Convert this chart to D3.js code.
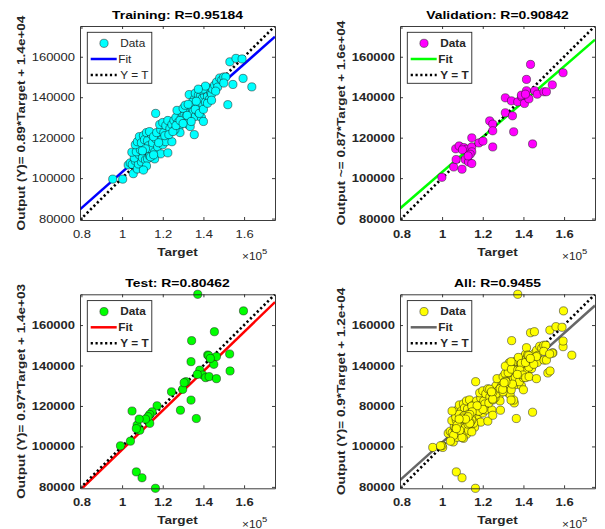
<!DOCTYPE html>
<html><head><meta charset="utf-8">
<script src="https://cdn.jsdelivr.net/npm/d3@7/dist/d3.min.js"></script>
<style>body{margin:0;background:#fff}svg{display:block}</style>
</head><body>
<svg id="chart" width="605" height="529"></svg>
<script>
// ---------------- data ----------------
const trainT = [95400,100300,105500,103000,104000,105000,106500,107500,108000,109500,106000,104800,108500,110000,111500,112500,113500,107000,109000,106500,107500,108500,110500,109500,111000,112500,113000,114000,115000,116000,117500,116500,118000,119500,120000,121500,119000,122500,111500,110000,112000,114500,113500,115500,117000,119000,120500,118500,120000,121500,122500,116500,123500,124500,116000,112000,110500,124500,125500,126500,127500,128000,129000,129500,130500,131000,132000,131500,132500,133000,134000,133500,134500,135000,135500,136000,136500,137000,137500,138000,138500,139000,139500,140000,133000,128500,127000,126000,130000,135500,136000,137500,138500,134500,131000,132500,139500,140500,141000,141500,142000,142500,143000,143500,144000,144500,145500,146500,147000,148000,149000,150000,139000,140000,141000,137500,136500,152000,154500,159500,163800,153000,156000,159000,151000,150000,114000,115500,118000,121000,123000,125000,126500,128500,130000,132000,134000,136000,138000,140000,142000,144000,146000];
const trainY = [99500,99500,102200,106500,107500,106800,108500,104500,107000,108000,110000,112800,111500,110000,109000,109500,111000,113000,114000,116500,118000,120500,121000,117500,119000,118500,116000,114500,117500,113000,115500,119500,121000,119000,116500,118000,112000,112500,114500,113500,122500,121500,123000,120500,122500,124000,122500,126500,127500,126000,128500,132000,124500,118000,109500,106000,104000,126500,128500,130000,127500,125000,129500,132000,131000,128000,133500,130500,126500,129500,131000,125500,134500,133000,121500,130500,136500,134500,132500,138000,135000,130000,137000,128000,141300,122500,133500,124000,134500,139000,142000,141000,140500,137500,136000,136500,139500,141000,137500,143000,140500,144500,139000,142500,141500,144000,146000,147500,145000,149500,148500,150000,143500,144000,145500,144000,138000,136300,146300,149300,145100,157500,159200,158900,150000,147000,110500,111500,117500,121000,121500,123000,126000,128500,127000,131000,128000,134000,132000,134000,137000,138500,143000];

const valT = [99900,105700,109800,106900,106700,108400,110700,112200,114600,114600,114600,113800,111300,113000,114600,118100,120100,124900,123400,124900,124900,131100,134600,135200,131100,134100,137200,139100,140500,141500,141500,143500,142700,145500,146800,150100,151300,154200,159500,144500,110000,112800,139000,141000];
const valY = [100400,105500,104400,109200,114500,115900,115100,114300,115400,119900,113000,111800,109200,108000,107200,117400,118300,115400,128300,126700,123400,132300,130800,122900,139700,138200,137700,140200,136900,143200,148800,156200,139200,143200,141500,142700,142700,146100,152100,116900,114000,111000,141000,141500];

const testT = [137200,159700,145400,134200,133900,142100,143300,146400,145100,152900,153100,138200,139700,141100,142800,146400,137000,133900,136500,131400,129800,124300,128700,117200,114800,113600,113600,112800,111500,108700,107400,107000,104900,108400,104100,99200,107000,109800,116400,142600,143400,130500];
const testY = [175200,167000,156700,152300,141900,145200,143600,144400,140600,145700,137300,137700,135300,134000,134500,133500,135600,122900,113800,132000,128200,127000,117900,120100,117100,111400,115800,114700,113500,108000,110500,108800,117500,113500,102600,100300,87400,84500,79300,144900,143500,131500];

const allT = trainT.concat(valT, testT);
const allY = trainY.concat(valY, testY);

const axisLimits = [79300, 175200];
const tickValues = [80000, 100000, 120000, 140000, 160000];
const xTickLabels = ["0.8", "1", "1.2", "1.4", "1.6"];
const yTickLabels = ["80000", "100000", "120000", "140000", "160000"];
const yTickLabelsAll = ["80000", "100000", "80000", "140000", "160000"];

const titles = ["Training: R=0.95184", "Validation: R=0.90842", "Test: R=0.80462", "All: R=0.9455"];
const yLabels = ["Output (Y)= 0.89*Target + 1.4e+04", "Output ~= 0.87*Target + 1.6e+04",
                 "Output (Y)= 0.97*Target + 1.4e+03", "Output (Y)= 0.9*Target + 1.2e+04"];
const fitSlopes = [0.89, 0.87, 0.97, 0.9];
const fitIntercepts = [14000, 16000, 1400, 12000];
const markerColors = ["#00ffff", "#ff00ff", "#00ff00", "#ffff00"];
const fitColors = ["#0000ff", "#00ff00", "#ff0000", "#666666"];
const legendLabels = ["Data", "Fit", "Y = T"];

// ---------------- drawing ----------------
const svg = d3.select("#chart");
const W = 195, H = 194;
const origins = [[80, 26], [400, 26], [80, 294.3], [400, 294.3]];
const FONT = "'Liberation Sans', Arial, Helvetica, sans-serif";
const SX = 1.18;
const TXT = "#262626";
const R = 4.1;

const panels = [
  {T: trainT, Y: trainY, boldTicks: false},
  {T: valT, Y: valY, boldTicks: true},
  {T: testT, Y: testY, boldTicks: true},
  {T: allT, Y: allY, boldTicks: true}
];

panels.forEach((p, i) => {
  const [ox, oy] = origins[i];
  const g = svg.append("g").attr("transform", `translate(${ox},${oy})`);
  const x = d3.scaleLinear().domain(axisLimits).range([0, W]);
  const y = d3.scaleLinear().domain(axisLimits).range([H, 0]);
  const fw = p.boldTicks ? "bold" : "normal";

  g.append("rect").attr("width", W).attr("height", H).attr("fill", "#fff");

  const clipId = "clip" + i;
  g.append("clipPath").attr("id", clipId).append("rect").attr("width", W).attr("height", H);
  const plot = g.append("g").attr("clip-path", `url(#${clipId})`);

  // fit line
  const fy = t => fitSlopes[i] * t + fitIntercepts[i];
  plot.append("line")
    .attr("x1", x(axisLimits[0])).attr("y1", y(fy(axisLimits[0])))
    .attr("x2", x(axisLimits[1])).attr("y2", y(fy(axisLimits[1])))
    .attr("stroke", fitColors[i]).attr("stroke-width", 2.5);
  // Y = T line
  plot.append("line")
    .attr("x1", x(axisLimits[0])).attr("y1", y(axisLimits[0]))
    .attr("x2", x(axisLimits[1])).attr("y2", y(axisLimits[1]))
    .attr("stroke", "#000").attr("stroke-width", 2.6).attr("stroke-dasharray", "2.2,2.6");

  // data points
  g.append("g").selectAll("circle").data(p.T.map((t, k) => [t, p.Y[k]])).join("circle")
    .attr("cx", d => x(d[0])).attr("cy", d => y(d[1])).attr("r", R)
    .attr("fill", markerColors[i]).attr("stroke", "#1a1a1a").attr("stroke-width", 0.5);

  // axes
  const yl = i === 3 ? yTickLabelsAll : yTickLabels;
  const axB = g.append("g").attr("transform", `translate(0,${H})`)
    .call(d3.axisBottom(x).tickValues(tickValues).tickFormat((d, k) => xTickLabels[k]).tickSizeInner(-3).tickSizeOuter(0).tickPadding(10));
  const axL = g.append("g")
    .call(d3.axisLeft(y).tickValues(tickValues).tickFormat((d, k) => yl[k]).tickSizeInner(-3).tickSizeOuter(0).tickPadding(5));
  const axT = g.append("g")
    .call(d3.axisTop(x).tickValues(tickValues).tickFormat("").tickSizeInner(-3).tickSizeOuter(0));
  const axR = g.append("g").attr("transform", `translate(${W},0)`)
    .call(d3.axisRight(y).tickValues(tickValues).tickFormat("").tickSizeInner(-3).tickSizeOuter(0));
  [axB, axL, axT, axR].forEach(a => {
    a.selectAll("path.domain").attr("stroke", TXT).attr("stroke-width", 0.9);
    a.selectAll(".tick line").attr("stroke", TXT).attr("stroke-width", 0.9);
    a.selectAll("text").attr("font-family", FONT).attr("font-size", 11)
      .attr("font-weight", fw).attr("fill", TXT);
  });
  axB.selectAll(".tick text").attr("transform", `scale(${SX},1)`);
  axL.selectAll(".tick text").attr("x", -5 / SX).attr("transform", `scale(${SX},1)`);

  // stretched text helper
  const stext = (parent, tx, ty, str, size, weight, anchor, rot, color) => parent.append("text")
    .attr("transform", `translate(${tx},${ty})${rot ? " rotate(-90)" : ""} scale(${SX},1)`)
    .attr("font-family", FONT).attr("font-size", size).attr("font-weight", weight)
    .attr("text-anchor", anchor).attr("fill", color || TXT).text(str);

  // title
  stext(g, W / 2, -7.5, titles[i], 11.8, "bold", "middle", false, "#000");
  // x label
  stext(g, W / 2, H + 35.5, "Target", 11.5, "bold", "middle");
  // y label
  stext(g, -55.5, H / 2, yLabels[i], 11.5, "bold", "middle", true);
  // x10^5
  const ex = g.append("text").attr("transform", `translate(${W - 33},${H + 39.5}) scale(${SX},1)`)
    .attr("font-family", FONT).attr("font-size", 10).attr("fill", TXT);
  ex.append("tspan").text("\u00d710");
  ex.append("tspan").attr("dy", -5.5).attr("font-size", 8).text("5");

  // legend
  const lg = g.append("g").attr("transform", "translate(7.3,6.3)");
  lg.append("rect").attr("width", 64.5).attr("height", 51).attr("fill", "#fff")
    .attr("stroke", TXT).attr("stroke-width", 0.9);
  const rows = [11, 26.7, 42.7];
  lg.append("circle").attr("cx", 16.7).attr("cy", rows[0]).attr("r", R)
    .attr("fill", markerColors[i]).attr("stroke", "#1a1a1a").attr("stroke-width", 0.5);
  lg.append("line").attr("x1", 3.4).attr("x2", 29.4).attr("y1", rows[1]).attr("y2", rows[1])
    .attr("stroke", fitColors[i]).attr("stroke-width", 2.5);
  lg.append("line").attr("x1", 3.4).attr("x2", 29.4).attr("y1", rows[2]).attr("y2", rows[2])
    .attr("stroke", "#000").attr("stroke-width", 2.6).attr("stroke-dasharray", "2.2,2.6");
  legendLabels.forEach((lab, k) => {
    stext(lg, k === 1 ? 31 : 33, rows[k] + 3.6, lab, 10, fw, "start");
  });
});
</script>
</body></html>
